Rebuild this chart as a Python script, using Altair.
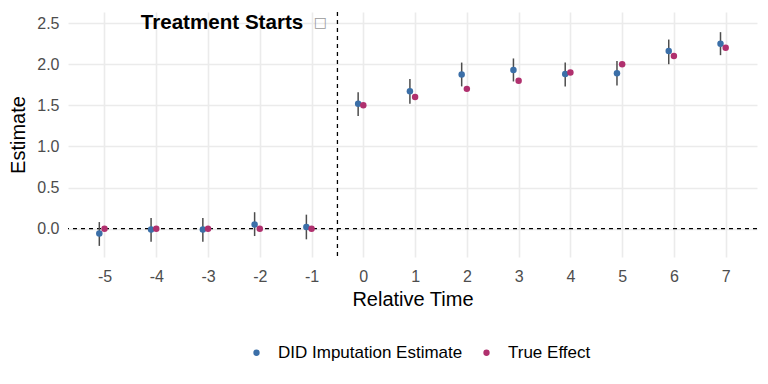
import altair as alt
import pandas as pd

# ---- data ----
rel_time = [-5, -4, -3, -2, -1, 0, 1, 2, 3, 4, 5, 6, 7]
estimate = [-0.06, -0.01, -0.01, 0.05, 0.02, 1.52, 1.67, 1.875, 1.93, 1.88, 1.89, 2.16, 2.25]
ci_low = [-0.21, -0.16, -0.16, -0.09, -0.13, 1.37, 1.52, 1.73, 1.79, 1.73, 1.74, 2.00, 2.11]
ci_high = [0.08, 0.13, 0.13, 0.20, 0.17, 1.66, 1.82, 2.02, 2.07, 2.02, 2.04, 2.30, 2.39]
true_effect = [0, 0, 0, 0, 0, 1.5, 1.6, 1.7, 1.8, 1.9, 2.0, 2.1, 2.2]
series = ["DID Imputation Estimate", "True Effect"]
colors = ["#3B6FA8", "#B0306E"]
x_ticks = [-5, -4, -3, -2, -1, 0, 1, 2, 3, 4, 5, 6, 7]
y_ticks = [0.0, 0.5, 1.0, 1.5, 2.0, 2.5]
treat_x = -0.5
annot_text = "Treatment Starts"
annot_glyph = "\u25a1"

FONT = "Liberation Sans"

points = pd.concat([
    pd.DataFrame({"time": rel_time, "value": estimate, "series": series[0]}),
    pd.DataFrame({"time": rel_time, "value": true_effect, "series": series[1]}),
], ignore_index=True)
bars = pd.DataFrame({"time": rel_time, "lo": ci_low, "hi": ci_high})
annot = pd.DataFrame({"x": [-1.16], "y": [2.5], "label": [annot_text]})
glyph = pd.DataFrame({"x": [-0.96], "y": [2.5], "label": [annot_glyph]})

xscale = alt.Scale(domain=[-5.705, 7.605], nice=False, zero=False)
yscale = alt.Scale(domain=[-0.345, 2.635], nice=False, zero=False)

xaxis = alt.Axis(values=x_ticks, labelExpr="toString(datum.value)", title="Relative Time",
                 grid=True, ticks=False, domain=False, labelPadding=11, titlePadding=5)
yaxis = alt.Axis(values=y_ticks, format=".1f", title="Estimate", grid=True,
                 ticks=False, domain=False, labelPadding=9, titlePadding=8)

hline = alt.Chart(pd.DataFrame({"y": [0]})).mark_rule(
    color="black", strokeDash=[4, 4], strokeWidth=1.3
).encode(y=alt.Y("y:Q", scale=yscale, axis=yaxis))

vline = alt.Chart(pd.DataFrame({"x": [treat_x]})).mark_rule(
    color="black", strokeDash=[4, 4], strokeWidth=1.3
).encode(x=alt.X("x:Q", scale=xscale, axis=xaxis))

err = alt.Chart(bars).transform_calculate(
    xpos="datum.time - 0.1"
).mark_rule(color="#4d4d4d", strokeWidth=1.5).encode(
    x=alt.X("xpos:Q", scale=xscale, axis=xaxis),
    y=alt.Y("lo:Q", scale=yscale, axis=yaxis),
    y2="hi:Q",
)

pts = alt.Chart(points).transform_calculate(
    xpos=f"datum.series == '{series[0]}' ? datum.time - 0.1 : datum.time"
).mark_circle(size=42, opacity=1).encode(
    x=alt.X("xpos:Q", scale=xscale, axis=xaxis),
    y=alt.Y("value:Q", scale=yscale, axis=yaxis),
    color=alt.Color(
        "series:N",
        scale=alt.Scale(domain=series, range=colors),
        legend=alt.Legend(
            title=None, orient="none", direction="horizontal",
            legendX=180, legendY=332, symbolType="circle", symbolSize=40,
            labelFontSize=17, labelFont=FONT, labelColor="black", labelLimit=400,
            labelOffset=13, columnPadding=15, padding=0,
        ),
    ),
)

txt = alt.Chart(annot).mark_text(
    align="right", baseline="middle", fontSize=20.6, fontWeight="bold",
    font=FONT, color="black"
).encode(
    x=alt.X("x:Q", scale=xscale, axis=xaxis),
    y=alt.Y("y:Q", scale=yscale, axis=yaxis),
    text="label:N",
)

gly = alt.Chart(glyph).mark_text(
    align="left", baseline="middle", fontSize=14, font="DejaVu Sans",
    color="#999999"
).encode(
    x=alt.X("x:Q", scale=xscale, axis=xaxis),
    y=alt.Y("y:Q", scale=yscale, axis=yaxis),
    text="label:N",
)

chart = alt.layer(hline, vline, err, pts, txt, gly).properties(
    width=689, height=245,
    autosize=alt.AutoSizeParams(type="none"),
    padding={"left": 60, "top": 4, "right": 3, "bottom": 119},
).configure_view(stroke=None).configure_axis(
    gridColor="#EBEBEB", gridWidth=1.6,
    labelFont=FONT, labelFontSize=16, labelColor="#4d4d4d",
    titleFont=FONT, titleFontSize=20, titleColor="black", titleFontWeight="normal",
)

chart.save("out.html", embed_options={"renderer": "svg", "actions": False})
